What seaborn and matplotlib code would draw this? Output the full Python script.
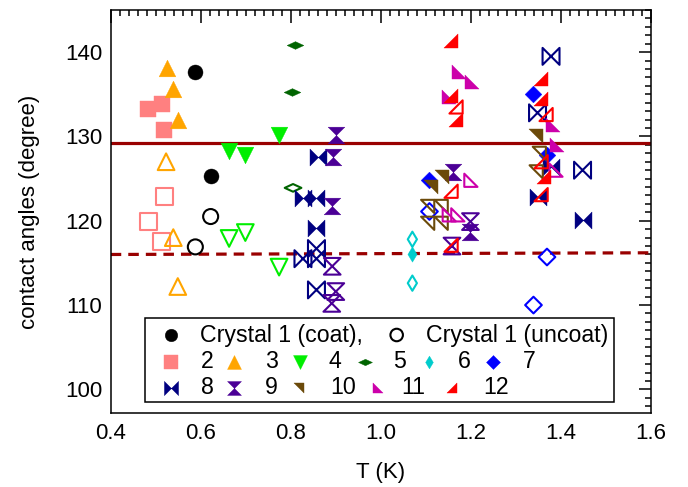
import numpy as np
import pandas as pd
import matplotlib
matplotlib.use("Agg")
import matplotlib.pyplot as plt
import seaborn as sns
from matplotlib.ticker import MultipleLocator
from matplotlib.patches import Rectangle
from matplotlib.path import Path

# ---------------- data (T in K, contact angle in degree) ----------------
c1_coat_T = [0.588, 0.622]
c1_coat_A = [137.6, 125.3]
c1_unc_T = [0.622, 0.588]
c1_unc_A = [120.5, 116.9]

s2_coat_T = [0.483, 0.514, 0.519]
s2_coat_A = [133.2, 133.8, 130.8]
s2_unc_T = [0.519, 0.483, 0.513]
s2_unc_A = [122.9, 119.9, 117.5]

s3_coat_T = [0.524, 0.539, 0.549]
s3_coat_A = [138.1, 135.6, 132.0]
s3_unc_T = [0.523, 0.539, 0.549]
s3_unc_A = [127.0, 118.0, 112.2]

s4_coat_T = [0.663, 0.698, 0.773]
s4_coat_A = [128.3, 127.8, 130.2]
s4_unc_T = [0.663, 0.699, 0.774]
s4_unc_A = [117.9, 118.6, 114.5]

s5_coat_T = [0.809, 0.803]
s5_coat_A = [140.9, 135.3]
s5_unc_T = [0.805]
s5_unc_A = [123.9]

s6_coat_T = [1.070]
s6_coat_A = [116.1]
s6_unc_T = [1.070, 1.070]
s6_unc_A = [117.8, 112.6]

s7_coat_T = [1.339, 1.108, 1.370]
s7_coat_A = [135.0, 124.8, 127.8]
s7_unc_T = [1.108, 1.369, 1.339]
s7_unc_A = [121.1, 115.7, 110.0]

s8_coat_T = [0.860, 0.827, 0.857, 0.857, 1.348, 1.448, 1.378]
s8_coat_A = [127.6, 122.7, 122.7, 119.1, 122.8, 120.1, 126.4]
s8_unc_T = [0.857, 0.827, 0.857, 0.857, 1.378, 1.348, 1.448]
s8_unc_A = [116.7, 115.5, 115.5, 111.8, 139.5, 132.8, 126.0]

s9_coat_T = [0.900, 0.893, 0.891, 1.161, 1.199]
s9_coat_A = [130.2, 127.6, 121.7, 125.8, 118.7]
s9_unc_T = [0.892, 0.900, 0.891, 1.199, 1.158]
s9_unc_A = [114.6, 111.6, 110.2, 119.9, 117.0]

s10_coat_T = [1.112, 1.136, 1.345]
s10_coat_A = [124.0, 125.2, 130.0]
s10_unc_T = [1.104, 1.134, 1.104, 1.134, 1.352, 1.345]
s10_unc_A = [121.7, 121.7, 119.7, 119.7, 128.0, 125.8]

s11_coat_T = [1.173, 1.203, 1.152, 1.383, 1.392]
s11_coat_A = [137.7, 136.5, 134.7, 131.4, 129.0]
s11_unc_T = [1.200, 1.152, 1.171, 1.389]
s11_unc_A = [124.8, 120.7, 120.7, 126.0]

s12_coat_T = [1.156, 1.156, 1.166, 1.356, 1.356, 1.363]
s12_coat_A = [141.3, 134.8, 132.0, 136.8, 134.5, 125.2]
s12_unc_T = [1.167, 1.156, 1.156, 1.367, 1.356, 1.356]
s12_unc_A = [133.5, 123.5, 117.1, 132.6, 127.0, 123.1]

ref_solid_A = 129.2
ref_dashed_T = [0.4, 1.6]
ref_dashed_A = [116.0, 116.2]

sample_labels = ["Crystal 1", "2", "3", "4", "5", "6", "7", "8", "9", "10", "11", "12"]
x_ticks = [0.4, 0.6, 0.8, 1.0, 1.2, 1.4, 1.6]
y_ticks = [100, 110, 120, 130, 140]

# ---------------- styles ----------------
def closed(verts):
    v = list(verts) + [verts[0]]
    codes = [Path.MOVETO] + [Path.LINETO] * (len(verts) - 1) + [Path.CLOSEPOLY]
    return Path(v, codes)

flat_diamond = closed([(-1, 0), (0, 0.46), (1, 0), (0, -0.46)])
thin_diamond = closed([(0, 1), (0.6, 0), (0, -1), (-0.6, 0)])
diamond = closed([(0, 1), (1, 0), (0, -1), (-1, 0)])
bowtie = closed([(-1, 1), (1, -1), (1, 1), (-1, -1)])
hourglass = closed([(-1, 1), (1, 1), (-1, -1), (1, -1)])
tri_ur = closed([(-1, 1), (1, 1), (1, -1)])      # sample 10
tri_ll = closed([(-1, 1), (-1, -1), (1, -1)])    # sample 11
tri_lr = closed([(1, 1), (1, -1), (-1, -1)])     # sample 12

styles = {
    "Crystal 1": ("o", "black", 10.8),
    "2": ("s", "#FF8080", 12.2),
    "3": ("^", "#FFA500", 12.0),
    "4": ("v", "#00EE00", 12.0),
    "5": (flat_diamond, "#006400", 12.0),
    "6": (thin_diamond, "#00CCCC", 11.0),
    "7": (diamond, "#0000FF", 12.0),
    "8": (bowtie, "#000080", 12.2),
    "9": (hourglass, "#4B0096", 12.0),
    "10": (tri_ur, "#6B4A0A", 9.5),
    "11": (tri_ll, "#CC00AA", 9.5),
    "12": (tri_lr, "#FF0000", 9.5),
}

groups = [
    ("Crystal 1", c1_coat_T, c1_coat_A, c1_unc_T, c1_unc_A),
    ("2", s2_coat_T, s2_coat_A, s2_unc_T, s2_unc_A),
    ("3", s3_coat_T, s3_coat_A, s3_unc_T, s3_unc_A),
    ("4", s4_coat_T, s4_coat_A, s4_unc_T, s4_unc_A),
    ("5", s5_coat_T, s5_coat_A, s5_unc_T, s5_unc_A),
    ("6", s6_coat_T, s6_coat_A, s6_unc_T, s6_unc_A),
    ("7", s7_coat_T, s7_coat_A, s7_unc_T, s7_unc_A),
    ("8", s8_coat_T, s8_coat_A, s8_unc_T, s8_unc_A),
    ("9", s9_coat_T, s9_coat_A, s9_unc_T, s9_unc_A),
    ("10", s10_coat_T, s10_coat_A, s10_unc_T, s10_unc_A),
    ("11", s11_coat_T, s11_coat_A, s11_unc_T, s11_unc_A),
    ("12", s12_coat_T, s12_coat_A, s12_unc_T, s12_unc_A),
]

rows = []
for name, cT, cA, uT, uA in groups:
    for t, a in zip(cT, cA):
        rows.append((name, "coat", t, a))
    for t, a in zip(uT, uA):
        rows.append((name, "uncoat", t, a))
df = pd.DataFrame(rows, columns=["sample", "state", "T", "angle"])

# ---------------- figure ----------------
sns.set_theme(style="white")
plt.rcParams["font.family"] = ["Liberation Sans", "DejaVu Sans"]
plt.rcParams["axes.linewidth"] = 1.1
plt.rcParams["axes.edgecolor"] = "black"

fig = plt.figure(figsize=(6.88, 4.87), dpi=100)
ax = fig.add_axes([0.1609, 0.1520, 0.7853, 0.8275])

ax.axhline(ref_solid_A, color="#990000", lw=2.3, zorder=1)
sns.lineplot(x=ref_dashed_T, y=ref_dashed_A, ax=ax, color="#990000", lw=2.3,
             dashes=False, zorder=1, linestyle=(0, (3.3, 2.2)))

for name in sample_labels:
    marker, color, size = styles[name]
    sub = df[df["sample"] == name]
    coat = sub[sub["state"] == "coat"]
    unc = sub[sub["state"] == "uncoat"]
    sns.scatterplot(data=coat, x="T", y="angle", ax=ax, marker=marker,
                    s=size ** 2, color=color, edgecolor=color, linewidth=0.3,
                    zorder=3, legend=False)
    sns.scatterplot(data=unc, x="T", y="angle", ax=ax, marker=marker,
                    s=size ** 2, color=color, facecolor="none", edgecolor=color,
                    linewidth=1.5, zorder=3, legend=False)

ax.set_xlim(0.4, 1.6)
ax.set_ylim(97.2, 145)
ax.set_xticks(x_ticks)
ax.set_xticklabels([f"{v:.1f}" for v in x_ticks])
ax.set_yticks(y_ticks)
ax.set_yticklabels([str(v) for v in y_ticks])
ax.xaxis.set_minor_locator(MultipleLocator(0.02))
ax.yaxis.set_minor_locator(MultipleLocator(1))
ax.tick_params(which="both", direction="in", top=True, right=True,
               width=1.1, color="black", labelsize=16, labelcolor="black")
ax.tick_params(which="major", length=9)
ax.tick_params(which="minor", length=4.5)
ax.tick_params(axis="x", which="major", pad=7)
ax.tick_params(axis="y", which="major", pad=6)
ax.set_xlabel("T (K)", fontsize=16, labelpad=13, color="black")
ax.set_ylabel("contact angles (degree)", fontsize=16, labelpad=18, color="black")
for sp in ax.spines.values():
    sp.set_color("black")
    sp.set_linewidth(1.1)

# ---------------- legend box (manual layout, axes fraction) ----------------
tr = ax.transAxes
ax.add_patch(Rectangle((0.0635, 0.0273), 0.8681, 0.2084, transform=tr,
                       facecolor="white", edgecolor="black", lw=1.1, zorder=5))
fs = 16.7
leg_ms = 10.0

def leg_marker(xf, yf, name, filled=True):
    marker, color, size = styles[name]
    sz = (leg_ms * size / 12.0) ** 2
    if filled:
        ax.scatter([xf], [yf], transform=tr, marker=marker, s=sz, color=color,
                   edgecolor=color, linewidth=0.3, zorder=6, clip_on=False)
    else:
        ax.scatter([xf], [yf], transform=tr, marker=marker, s=sz, facecolor="none",
                   edgecolor=color, linewidth=1.5, zorder=6, clip_on=False)

def leg_text(xf, yf, s):
    ax.text(xf, yf, s, transform=tr, fontsize=fs, ha="left", va="baseline",
            zorder=6, color="black")

# row 1
leg_marker(0.1116, 0.1935, "Crystal 1", True)
leg_text(0.1653, 0.1769, "Crystal 1 (coat),")
leg_marker(0.5293, 0.1935, "Crystal 1", False)
leg_text(0.5836, 0.1769, "Crystal 1 (uncoat)")
# row 2
row2_mx = [0.1116, 0.2288, 0.3504, 0.4707, 0.5891, 0.7081]
row2_tx = [0.1666, 0.2858, 0.4027, 0.5229, 0.6432, 0.7624]
for name, mx, tx in zip(sample_labels[1:7], row2_mx, row2_tx):
    leg_marker(mx, 0.1273, name)
    leg_text(tx, 0.1109, name)
# row 3
row3_mx = [0.1116, 0.2288, 0.3486, 0.4953, 0.6311]
row3_tx = [0.1666, 0.2856, 0.4059, 0.5385, 0.6897]
for name, mx, tx in zip(sample_labels[7:], row3_mx, row3_tx):
    leg_marker(mx, 0.0612, name)
    leg_text(tx, 0.0464, name)

fig.savefig("out.png", dpi=100, facecolor="white")
